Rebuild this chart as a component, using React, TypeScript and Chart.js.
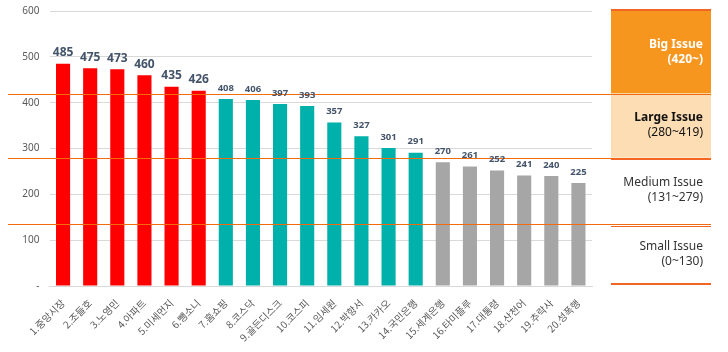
import React, { useEffect, useRef } from "react";
import Chart from "chart.js/auto";

const categories = [
  "1.중앙시장", "2.조들호", "3.노영민", "4.아파트", "5.미세먼지",
  "6.뺑소니", "7.홈쇼핑", "8.코스닥", "9.골든디스크", "10.코스피",
  "11.임세원", "12.박항서", "13.카카오", "14.국민은행", "15.세계은행",
  "16.타미플루", "17.대통령", "18.산천어", "19.추락사", "20.성폭행",
];
const values = [485, 475, 473, 460, 435, 426, 408, 406, 397, 393, 357, 327, 301, 291, 270, 261, 252, 241, 240, 225];

const yTicks = [0, 100, 200, 300, 400, 500, 600];
const bandTitles = ["Big Issue", "Large Issue", "Medium Issue", "Small Issue"];
const bandRanges = ["(420~)", "(280~419)", "(131~279)", "(0~130)"];
const bandBounds = [600, 420, 280, 135, 0];

const RED = "#FF0000";
const TEAL = "#00B0AA";
const GRAY = "#A6A6A6";
const ORANGE_LINE = "#F26B0F";

const barColor = (v: number) => (v >= 420 ? RED : v >= 280 ? TEAL : GRAY);

const overlayPlugin = {
  id: "overlay",
  beforeDatasetsDraw(chart: any) {
    const ctx = chart.ctx;
    const y = chart.scales.y;
    const x0 = 611;
    const x1 = 711;
    const yTop = y.getPixelForValue(bandBounds[0]) - 1;
    const y1 = y.getPixelForValue(bandBounds[1]);
    const y2 = y.getPixelForValue(bandBounds[2]);
    ctx.save();
    ctx.fillStyle = "#F7961E";
    ctx.fillRect(x0, yTop, x1 - x0, y1 - yTop);
    ctx.fillStyle = "#FDDDB3";
    ctx.fillRect(x0, y1, x1 - x0, y2 - y1);
    ctx.restore();
  },
  afterDatasetsDraw(chart: any) {
    const ctx = chart.ctx;
    const y = chart.scales.y;
    const x0 = 611;
    const x1 = 711;
    ctx.save();
    // threshold lines across
    ctx.fillStyle = ORANGE_LINE;
    for (let i = 1; i <= 3; i++) {
      const py = Math.round(y.getPixelForValue(bandBounds[i]));
      ctx.fillRect(8, py, x1 - 8, 1);
    }
    // box borders
    const yTop = Math.round(y.getPixelForValue(bandBounds[0])) - 1;
    ctx.fillStyle = "#F26522";
    ctx.fillRect(x0, yTop - 1, x1 - x0, 2);
    ctx.fillRect(x0, Math.round(y.getPixelForValue(bandBounds[2])), x1 - x0, 2);
    const y3 = Math.round(y.getPixelForValue(bandBounds[3]));
    ctx.fillRect(x0, y3 + 2, x1 - x0, 1);
    const yBot = Math.round(y.getPixelForValue(bandBounds[4])) - 3;
    ctx.fillRect(x0, yBot, x1 - x0, 2);

    // band texts
    const tx = 703;
    ctx.textAlign = "right";
    ctx.textBaseline = "middle";
    for (let i = 0; i < 4; i++) {
      const top = y.getPixelForValue(bandBounds[i]);
      const bot = y.getPixelForValue(bandBounds[i + 1]);
      const mid = (top + bot) / 2;
      if (i === 0) ctx.fillStyle = "#FFFFFF";
      else if (i === 1) ctx.fillStyle = "#111111";
      else ctx.fillStyle = "#333333";
      const bold = i < 2 ? "bold " : "";
      ctx.font = bold + "12px 'Noto Sans', sans-serif";
      ctx.fillText(bandTitles[i], tx, mid - 8);
      ctx.font = (i === 0 ? "bold " : "") + "12px 'Noto Sans', sans-serif";
      ctx.fillText(bandRanges[i], tx, mid + 7);
    }

    // data labels
    const meta = chart.getDatasetMeta(0);
    ctx.fillStyle = "#44546A";
    ctx.textAlign = "center";
    meta.data.forEach((bar: any, i: number) => {
      const v = values[i];
      ctx.font = v >= 420 ? "bold 12px 'Open Sans', sans-serif" : "bold 9.5px 'Open Sans', sans-serif";
      ctx.fillText(String(v), bar.x, bar.y - 11);
    });
    ctx.restore();
  },
};

export default function App() {
  const ref = useRef<HTMLCanvasElement | null>(null);
  useEffect(() => {
    if (!ref.current) return;
    const chart = new Chart(ref.current, {
      type: "bar",
      data: {
        labels: categories,
        datasets: [
          {
            data: values,
            backgroundColor: values.map(barColor),
            barPercentage: 0.52,
            categoryPercentage: 1,
          },
        ],
      },
      options: {
        responsive: false,
        animation: false,
        layout: { padding: { top: 11, right: 136, left: 0, bottom: 0 } },
        plugins: { legend: { display: false }, tooltip: { enabled: false } },
        scales: {
          x: {
            grid: { display: false },
            border: { color: "#D9D9D9" },
            ticks: {
              minRotation: 45,
              maxRotation: 45,
              autoSkip: false,
              color: "#595959",
              font: { size: 10, family: "'Noto Sans CJK KR', sans-serif" },
            },
            afterFit: (s: any) => {
              s.height = 66;
            },
          },
          y: {
            min: 0,
            max: 600,
            afterBuildTicks: (s: any) => {
              s.ticks = yTicks.map((v) => ({ value: v }));
            },
            ticks: {
              padding: 10,
              color: "#595959",
              font: { size: 10, family: "'Noto Sans', sans-serif" },
              callback: (v: any) => (Number(v) === 0 ? "-" : String(v)),
            },
            grid: { color: "#D9D9D9", drawTicks: false },
            border: { display: false },
            afterFit: (s: any) => {
              s.width = 49.5;
              s.paddingTop = 6;
              s.paddingBottom = 6;
            },
          },
        },
      },
      plugins: [overlayPlugin],
    });
    return () => chart.destroy();
  }, []);
  return (
    <div style={{ position: "fixed", left: 0, top: 0, width: 728, height: 352, background: "#fff" }}>
      <canvas ref={ref} width={728} height={352} style={{ display: "block" }} />
    </div>
  );
}
